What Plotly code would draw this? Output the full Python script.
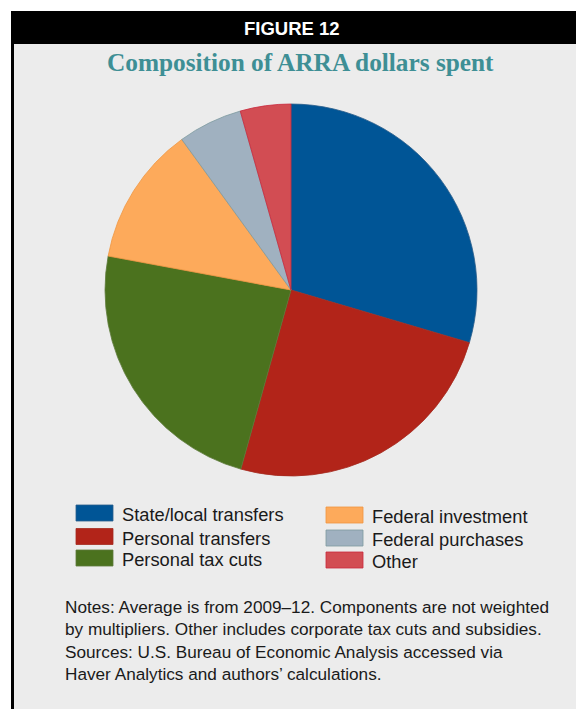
import plotly.graph_objects as go

labels = ["State/local transfers", "Personal transfers", "Personal tax cuts",
          "Federal investment", "Federal purchases", "Other"]
values = [29.6, 24.8, 23.6, 12.1, 5.6, 4.4]
colors = ["#005596", "#b22419", "#4b721e", "#fdaa5b", "#a0b1c0", "#d24d53"]
edge_colors = ["#2a5d8a", "#a52a1e", "#5d7a3a", "#f0963f", "#7d9aa0", "#c9283e"]

header = "FIGURE 12"
title = "Composition of ARRA dollars spent"
notes = [
    "Notes: Average is from 2009\u201312. Components are not weighted",
    "by multipliers. Other includes corporate tax cuts and subsidies.",
    "Sources: U.S. Bureau of Economic Analysis accessed via",
    "Haver Analytics and authors\u2019 calculations.",
]

W, H = 576, 709

def px(x):
    return x / W

def py(y):
    return 1 - y / H

fig = go.Figure()
fig.add_trace(go.Pie(
    labels=labels, values=values, sort=False, direction="clockwise", rotation=0,
    marker=dict(colors=colors, line=dict(color=edge_colors, width=0.8)),
    textinfo="none", hoverinfo="label+percent", showlegend=False,
    domain=dict(x=[px(105), px(477)], y=[py(476), py(104)]),
))

shapes = [
    dict(type="rect", xref="paper", yref="paper", x0=px(11), x1=px(576), y0=py(709), y1=py(11),
         fillcolor="#ececec", line=dict(width=0), layer="below"),
    dict(type="rect", xref="paper", yref="paper", x0=px(11), x1=px(576), y0=py(44), y1=py(11),
         fillcolor="#000000", line=dict(width=0), layer="below"),
    dict(type="rect", xref="paper", yref="paper", x0=px(11), x1=px(14), y0=py(709), y1=py(11),
         fillcolor="#000000", line=dict(width=0), layer="below"),
]

annotations = [
    dict(text="<b>" + header + "</b>", x=px(292), y=py(28), xref="paper", yref="paper",
         xanchor="center", yanchor="middle", showarrow=False,
         font=dict(family="Liberation Sans", size=18.5, color="#ffffff")),
    dict(text="<b>" + title + "</b>", x=px(300), y=py(62), xref="paper", yref="paper",
         xanchor="center", yanchor="middle", showarrow=False,
         font=dict(family="Liberation Serif", size=25.3, color="#3e8f95")),
]

# custom legend: two columns of three
col_x = [76, 326]
row_y = [[513, 536.5, 558], [515, 538, 560]]
for i, (lab, c, ec) in enumerate(zip(labels, colors, edge_colors)):
    col = i // 3
    row = i % 3
    x0 = col_x[col]
    yc = row_y[col][row]
    shapes.append(dict(type="rect", xref="paper", yref="paper",
                       x0=px(x0), x1=px(x0 + 37), y0=py(yc + 8), y1=py(yc - 8),
                       fillcolor=c, line=dict(color=ec, width=0.8)))
    annotations.append(dict(text=lab, x=px(x0 + 43.5), y=py(yc + 1.5), xref="paper", yref="paper",
                            xanchor="left", yanchor="middle", showarrow=False,
                            font=dict(family="Liberation Sans", size=18.3, color="#1a1a1a")))

note_y = [607, 629, 652, 674]
for t, yy in zip(notes, note_y):
    annotations.append(dict(text=t, x=px(63), y=py(yy), xref="paper", yref="paper",
                            xanchor="left", yanchor="middle", showarrow=False,
                            font=dict(family="Liberation Sans", size=17.2, color="#1a1a1a")))

fig.update_layout(
    width=W, height=H, margin=dict(l=0, r=0, t=0, b=0),
    paper_bgcolor="#ffffff", plot_bgcolor="#ffffff",
    shapes=shapes, annotations=annotations, showlegend=False,
)

fig.write_html("out.html", config={"displayModeBar": False})
